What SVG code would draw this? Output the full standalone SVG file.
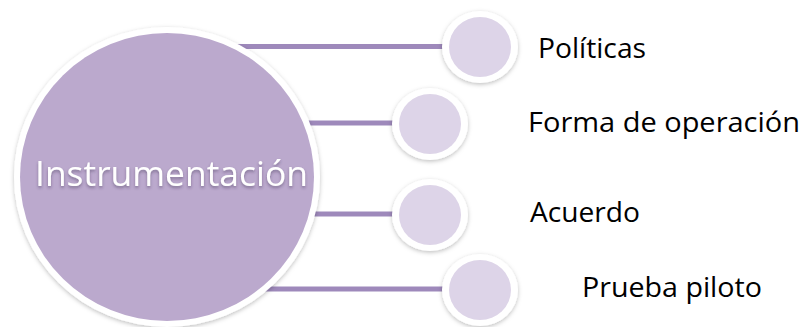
<svg xmlns="http://www.w3.org/2000/svg" width="803" height="327" viewBox="0 0 803 327">
  <defs>
    <filter id="sh" x="-20%" y="-20%" width="140%" height="140%">
      <feDropShadow dx="0" dy="1.5" stdDeviation="2" flood-color="#000" flood-opacity="0.25"/>
    </filter>
    <filter id="tsh" x="-10%" y="-30%" width="120%" height="160%">
      <feDropShadow dx="0" dy="2" stdDeviation="1.5" flood-color="#3a2a50" flood-opacity="0.45"/>
    </filter>
  </defs>
  <style>
    .conn { stroke: #9e89bb; stroke-width: 5; fill: none; }
    .ring { fill: #ffffff; filter: url(#sh); }
    .big { fill: #bba9cd; }
    .small { fill: #ddd4e8; }
    .lbl { font-family: "Open Sans", "Noto Sans", sans-serif; font-size: 28px; fill: #000000; }
    .main { font-family: "Open Sans", "Noto Sans", sans-serif; font-size: 34px; fill: #ffffff; filter: url(#tsh); }
  </style>
  <rect width="803" height="327" fill="#ffffff"/>
  <g id="connectors">
    <line class="conn" x1="200" y1="46.5" x2="480" y2="46.5"/>
    <line class="conn" x1="200" y1="123" x2="430" y2="123"/>
    <line class="conn" x1="200" y1="214" x2="430" y2="214"/>
    <line class="conn" x1="200" y1="289" x2="480" y2="289"/>
  </g>
  <g id="instrumentacion">
    <ellipse class="ring" cx="167" cy="177" rx="153" ry="150"/>
    <ellipse class="big" cx="167" cy="177" rx="147" ry="144"/>
    <text class="main" x="35" y="186" textLength="273" lengthAdjust="spacingAndGlyphs">Instrumentación</text>
  </g>
  <g id="politicas">
    <ellipse class="ring" cx="480" cy="47" rx="38" ry="36"/>
    <ellipse class="small" cx="480" cy="47" rx="31" ry="30"/>
    <text class="lbl" x="538" y="58" textLength="108" lengthAdjust="spacingAndGlyphs">Políticas</text>
  </g>
  <g id="forma">
    <ellipse class="ring" cx="430" cy="124" rx="38" ry="36"/>
    <ellipse class="small" cx="430" cy="124" rx="31" ry="30"/>
    <text class="lbl" x="528" y="132" textLength="272" lengthAdjust="spacingAndGlyphs">Forma de operación</text>
  </g>
  <g id="acuerdo">
    <ellipse class="ring" cx="430" cy="215" rx="38" ry="36"/>
    <ellipse class="small" cx="430" cy="215" rx="31" ry="30"/>
    <text class="lbl" x="530" y="222" textLength="110" lengthAdjust="spacingAndGlyphs">Acuerdo</text>
  </g>
  <g id="prueba">
    <ellipse class="ring" cx="480" cy="290" rx="38" ry="36"/>
    <ellipse class="small" cx="480" cy="290" rx="31" ry="30"/>
    <text class="lbl" x="582" y="297" textLength="180" lengthAdjust="spacingAndGlyphs">Prueba piloto</text>
  </g>
</svg>
